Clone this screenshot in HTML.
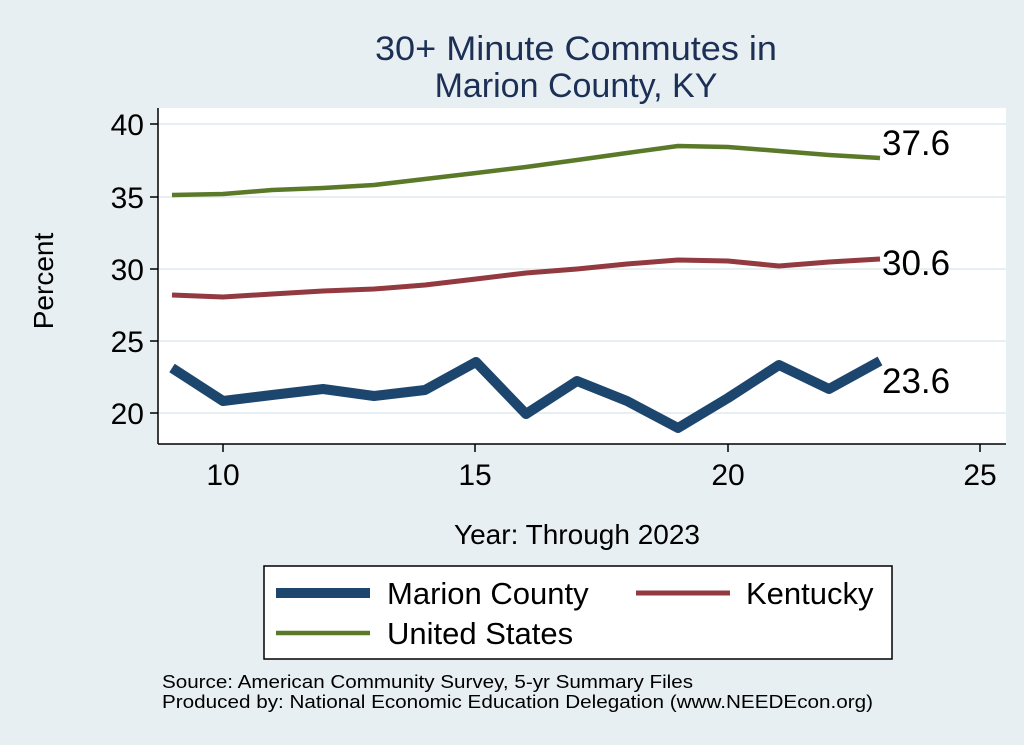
<!DOCTYPE html><html><head><style>body{margin:0;background:#e8eff2}svg{display:block;font-family:"Liberation Sans",sans-serif}</style></head><body>
<svg width="1024" height="745" viewBox="0 0 1024 745">
<rect width="1024" height="745" fill="#e8eff2"/>
<text x="576" y="60" font-size="34" fill="#1c2f55" text-anchor="middle" textLength="402" lengthAdjust="spacingAndGlyphs">30+ Minute Commutes in</text>
<text x="576" y="97" font-size="34" fill="#1c2f55" text-anchor="middle">Marion County, KY</text>
<rect x="158" y="108" width="848" height="336" fill="#fff"/>
<g stroke="#e8eff2" stroke-width="2"><line x1="158" x2="1006" y1="124" y2="124"/><line x1="158" x2="1006" y1="197" y2="197"/><line x1="158" x2="1006" y1="269" y2="269"/><line x1="158" x2="1006" y1="341" y2="341"/><line x1="158" x2="1006" y1="413" y2="413"/></g>
<g stroke="#000" stroke-width="1.5"><line x1="158" y1="108" x2="158" y2="444"/><line x1="158" y1="444" x2="1006" y2="444"/>
<line x1="150" x2="158" y1="124" y2="124"/><line x1="150" x2="158" y1="197" y2="197"/><line x1="150" x2="158" y1="269" y2="269"/><line x1="150" x2="158" y1="341" y2="341"/><line x1="150" x2="158" y1="413" y2="413"/>
<line x1="223" x2="223" y1="444" y2="452"/><line x1="475" x2="475" y1="444" y2="452"/><line x1="728" x2="728" y1="444" y2="452"/><line x1="980" x2="980" y1="444" y2="452"/></g>
<g font-size="30" text-anchor="end"><text x="144" y="135">40</text><text x="144" y="208">35</text><text x="144" y="280">30</text><text x="144" y="352">25</text><text x="144" y="424">20</text></g>
<g font-size="30" text-anchor="middle"><text x="223" y="485">10</text><text x="475" y="485">15</text><text x="728" y="485">20</text><text x="980" y="485">25</text></g>
<text x="53" y="281" font-size="28" text-anchor="middle" transform="rotate(-90 53 281)">Percent</text>
<text x="577" y="544" font-size="28" text-anchor="middle">Year: Through 2023</text>
<g fill="none" stroke-linejoin="round">
<polyline stroke="#5a7a2a" stroke-width="4.5" points="172,195 223,194 272,190 323,188 374,185 425,179 476,173 526,167 577,160 627,153 678,146 728,147 779,151 829,155 880,158"/>
<polyline stroke="#923a40" stroke-width="5" points="172,295 223,297 272,294 323,291 374,289 425,285 476,279 526,273 577,269 627,264 678,260 728,261 779,266 829,262 880,259"/>
<polyline stroke="#1c466e" stroke-width="10" points="172,368 223,401 272,395 323,389 374,396 425,390 476,362 526,414 577,381 627,401 678,428 728,398 779,365 829,389 880,361"/>
</g>
<g font-size="35"><text x="882" y="155">37.6</text><text x="882" y="275">30.6</text><text x="882" y="393">23.6</text></g>
<rect x="264" y="566" width="628" height="93" fill="#fff" stroke="#000" stroke-width="1.5"/>
<line x1="276" x2="370" y1="593" y2="593" stroke="#1c466e" stroke-width="10"/>
<line x1="636" x2="730" y1="593" y2="593" stroke="#923a40" stroke-width="5"/>
<line x1="276" x2="370" y1="633" y2="633" stroke="#5a7a2a" stroke-width="4.5"/>
<g font-size="31"><text x="387" y="604">Marion County</text><text x="746" y="604">Kentucky</text><text x="387" y="644">United States</text></g>
<g font-size="18"><text x="162" y="688" textLength="531" lengthAdjust="spacingAndGlyphs">Source: American Community Survey, 5-yr Summary Files</text><text x="162" y="708" textLength="711" lengthAdjust="spacingAndGlyphs">Produced by: National Economic Education Delegation (www.NEEDEcon.org)</text></g>
</svg></body></html>
